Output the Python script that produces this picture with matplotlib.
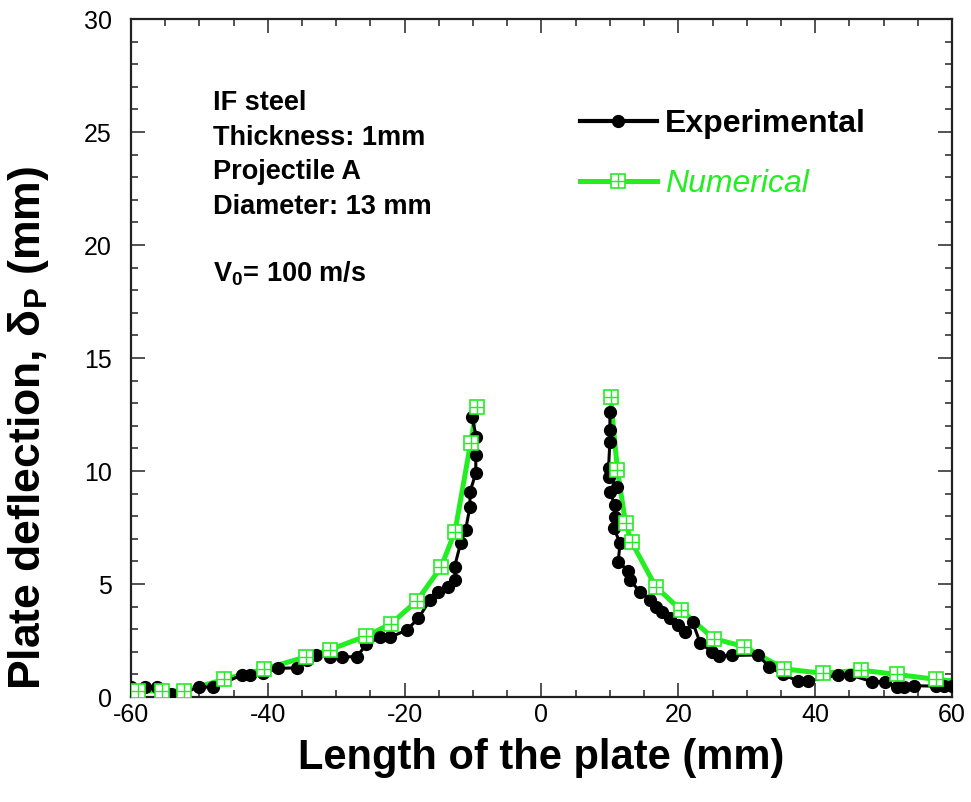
import matplotlib
matplotlib.use("Agg")
import matplotlib.pyplot as plt
from matplotlib.ticker import MultipleLocator
from matplotlib.lines import Line2D

plt.rcParams['font.family'] = ['Liberation Sans', 'DejaVu Sans']
plt.rcParams['axes.unicode_minus'] = False
plt.rcParams['mathtext.fontset'] = 'custom'
plt.rcParams['mathtext.rm'] = 'Liberation Sans'
plt.rcParams['mathtext.bf'] = 'Liberation Sans:bold'
plt.rcParams['mathtext.it'] = 'Liberation Sans:italic'

# Experimental deflection profile (left and right of the hole)
exp_left_x = [-60.0, -58.0, -56.2, -54.2, -52.4, -50.1, -48.0, -43.8, -42.6, -40.7,
              -38.5, -35.8, -34.3, -32.9, -30.9, -29.2, -27.0, -25.6, -23.6, -22.1,
              -19.7, -18.0, -16.3, -15.1, -13.6, -12.6, -12.7, -11.8, -11.1, -10.45,
              -10.45, -9.6, -9.6, -9.5, -10.2]
exp_left_y = [0.45, 0.45, 0.45, 0.13, 0.16, 0.45, 0.43, 0.97, 0.97, 1.05,
              1.27, 1.29, 1.64, 1.86, 1.75, 1.78, 1.78, 2.33, 2.65, 2.65,
              2.96, 3.48, 4.29, 4.66, 4.88, 5.18, 5.77, 6.83, 7.39, 8.42,
              9.08, 9.90, 10.70, 11.50, 12.40]
exp_right_x = [10.0, 10.0, 10.0, 9.8, 9.8, 11.0, 10.0, 10.7, 10.7, 10.6,
               11.5, 11.2, 12.7, 12.9, 14.4, 15.9, 16.8, 17.6, 18.8, 20.0,
               21.0, 22.1, 23.2, 24.9, 25.9, 27.8, 31.6, 33.3, 35.3, 37.5,
               39.0, 43.4, 45.1, 48.3, 50.2, 51.9, 53.0, 54.5, 57.7, 58.8, 60.0]
exp_right_y = [12.62, 11.81, 11.30, 10.12, 9.75, 9.31, 9.08, 8.50, 7.98, 7.46,
               6.80, 5.99, 5.58, 5.18, 4.66, 4.29, 4.00, 3.75, 3.48, 3.19,
               2.89, 3.30, 2.40, 2.00, 1.82, 1.84, 1.86, 1.34, 1.00, 0.70,
               0.70, 0.98, 0.98, 0.68, 0.68, 0.46, 0.46, 0.50, 0.48, 0.48, 0.48]

# Numerical deflection profile
num_left_x = [-59.0, -55.4, -52.2, -46.4, -40.6, -34.4, -30.9, -25.6, -22.0, -18.2,
              -14.7, -12.65, -10.35, -9.47]
num_left_y = [0.27, 0.27, 0.27, 0.78, 1.23, 1.78, 2.10, 2.70, 3.24, 4.26,
              5.74, 7.31, 11.25, 12.82]
num_right_x = [10.1, 11.1, 12.3, 13.2, 16.7, 20.4, 25.2, 29.65, 35.5, 41.2,
               46.7, 51.9, 57.7, 60.0]
num_right_y = [13.29, 10.04, 7.68, 6.84, 4.88, 3.84, 2.58, 2.23, 1.24, 1.05,
               1.19, 1.00, 0.78, 0.72]

x_ticks = [-60, -40, -20, 0, 20, 40, 60]
y_ticks = [0, 5, 10, 15, 20, 25, 30]

info_lines = ["IF steel", "Thickness: 1mm", "Projectile A", "Diameter: 13 mm"]
velocity_label = r"$\mathbf{V_0}$= 100 m/s"

GREEN = "#22ee22"

fig = plt.figure(figsize=(9.71, 8.02), dpi=100)
ax = fig.add_axes([0.1349, 0.1309, 0.8455, 0.8454])

# numerical curve (line beneath, squares on top)
for xs, ys in ((num_left_x, num_left_y), (num_right_x, num_right_y)):
    ax.plot(xs, ys, color=GREEN, lw=3.6, zorder=2, solid_capstyle='round')

# experimental curve
for xs, ys in ((exp_left_x, exp_left_y), (exp_right_x, exp_right_y)):
    ax.plot(xs, ys, color='black', lw=2.2, marker='o', ms=8.5,
            markeredgecolor='black', zorder=3)

for xs, ys in ((num_left_x, num_left_y), (num_right_x[:-1], num_right_y[:-1])):
    ax.plot(xs, ys, ls='none', marker='s', ms=10, mfc='white',
            mec=GREEN, mew=1.2, zorder=4)
    ax.plot(xs, ys, ls='none', marker='+', ms=10, mec=GREEN, mew=1.0, zorder=5)

ax.set_xlim(-60, 60)
ax.set_ylim(0, 30)
ax.set_xticks(x_ticks)
ax.set_yticks(y_ticks)
ax.xaxis.set_minor_locator(MultipleLocator(5))
ax.yaxis.set_minor_locator(MultipleLocator(1))
ax.tick_params(which='both', direction='in', top=True, right=True,
               color='#444444', width=1.3)
ax.tick_params(which='major', length=10, labelsize=18)
ax.tick_params(axis='y', which='major', pad=14)
ax.tick_params(axis='x', which='major', pad=4)
ax.tick_params(which='minor', length=5)
for s in ax.spines.values():
    s.set_linewidth(1.6)
    s.set_color('#222222')

ax.set_xlabel("Length of the plate (mm)", fontsize=30, fontweight='bold', labelpad=8)
fig.text(0.029, 0.466, r"Plate deflection, $\mathbf{\delta_P}$ (mm)", fontsize=32,
         fontweight='bold', rotation=90, ha='center', va='center')

for i, line in enumerate(info_lines):
    ax.text(0.1, 0.876 - i * 0.0509, line, transform=ax.transAxes,
            fontsize=19.5, fontweight='bold', va='center', ha='left')
ax.text(0.1, 0.625, velocity_label, transform=ax.transAxes,
        fontsize=19.5, fontweight='bold', va='center', ha='left')

handles = [
    Line2D([], [], color='black', lw=3, marker='o', ms=8.5),
    (Line2D([], [], color=GREEN, lw=3.6, marker='s', ms=10, mfc='white',
            mec=GREEN, mew=1.2),
     Line2D([], [], ls='none', marker='+', ms=10, mec=GREEN, mew=1.0)),
]
leg = ax.legend(handles, ["Experimental", "Numerical"], loc='upper left',
                bbox_to_anchor=(0.512, 0.91), frameon=False, fontsize=23,
                handlelength=2.4, handletextpad=0.25, labelspacing=0.95)
texts = leg.get_texts()
texts[0].set_fontweight('bold')
texts[1].set_color(GREEN)
texts[1].set_fontstyle('italic')

fig.savefig("out.png", dpi=100)
